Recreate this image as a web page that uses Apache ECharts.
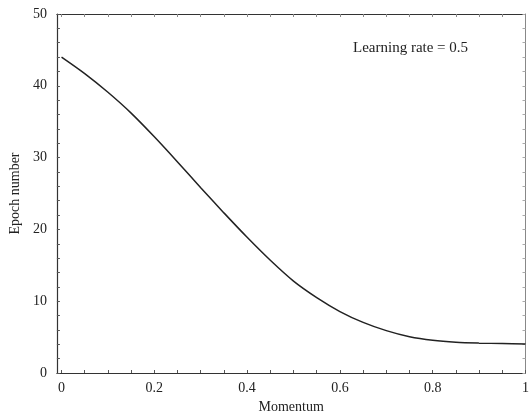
<!DOCTYPE html>
<html>
<head>
<meta charset="utf-8">
<script src="https://cdn.jsdelivr.net/npm/echarts@6/dist/echarts.min.js"></script>
<style>html,body{margin:0;padding:0;background:#fff;}#c{width:532px;height:419px;}</style>
</head>
<body>
<div id="c"></div>
<script>
const momentum = [0, 0.05, 0.1, 0.15, 0.2, 0.25, 0.3, 0.35, 0.4, 0.45, 0.5, 0.55, 0.6, 0.65, 0.7, 0.75, 0.8, 0.85, 0.9, 0.95, 1.0];
const epochs = [44.0, 41.7, 39.1, 36.2, 32.9, 29.4, 25.8, 22.3, 18.9, 15.7, 12.8, 10.5, 8.56, 7.05, 5.9, 5.05, 4.55, 4.28, 4.16, 4.1, 4.05];
const xTickLabels = [0, 0.2, 0.4, 0.6, 0.8, 1];
const xMinorTicks = [0, 0.05, 0.1, 0.15, 0.2, 0.25, 0.3, 0.35, 0.4, 0.45, 0.5, 0.55, 0.6, 0.65, 0.7, 0.75, 0.8, 0.85, 0.9, 0.95, 1];
const yTickLabels = [0, 10, 20, 30, 40, 50];
const yMinorTicks = [0, 2, 4, 6, 8, 10, 12, 14, 16, 18, 20, 22, 24, 26, 28, 30, 32, 34, 36, 38, 40, 42, 44, 46, 48, 50];
const annotation = 'Learning rate = 0.5';

const font = 'Liberation Serif, Times New Roman, serif';
const lineStyle = {color: '#333', width: 1.2};
const chart = echarts.init(document.getElementById('c'), null, {renderer: 'canvas'});
chart.setOption({
  animation: false,
  backgroundColor: '#fff',
  grid: {left: 52, right: 2, top: 14, bottom: 44, containLabel: false},
  xAxis: [{
    type: 'value', min: -0.01, max: 1, position: 'bottom',
    name: 'Momentum', nameLocation: 'middle', nameGap: 27,
    nameTextStyle: {fontFamily: font, fontSize: 14, color: '#222'},
    axisLine: {show: true, onZero: false, lineStyle: lineStyle},
    axisTick: {show: true, inside: true, length: 3, customValues: xMinorTicks, lineStyle: {color: '#555', width: 1}},
    axisLabel: {customValues: xTickLabels, fontFamily: font, fontSize: 14, color: '#222', margin: 8,
      formatter: v => String(+v.toFixed(2))},
    splitLine: {show: false}
  }, {
    type: 'value', min: -0.01, max: 1, position: 'top',
    axisLine: {show: true, onZero: false, lineStyle: lineStyle},
    axisTick: {show: true, inside: true, length: 3, customValues: xMinorTicks, lineStyle: {color: '#888', width: 1}},
    axisLabel: {show: false}, splitLine: {show: false}
  }],
  yAxis: [{
    type: 'value', min: 0, max: 50, position: 'left',
    name: 'Epoch number', nameLocation: 'middle', nameGap: 32, nameRotate: 90,
    nameTextStyle: {fontFamily: font, fontSize: 14, color: '#222'},
    axisLine: {show: true, onZero: false, lineStyle: lineStyle},
    axisTick: {show: true, inside: true, length: 3, customValues: yMinorTicks, lineStyle: {color: '#555', width: 1}},
    axisLabel: {customValues: yTickLabels, fontFamily: font, fontSize: 14, color: '#222', margin: 10},
    splitLine: {show: false}
  }, {
    type: 'value', min: 0, max: 50, position: 'right',
    axisLine: {show: true, onZero: false, lineStyle: {color: '#888', width: 1}},
    axisTick: {show: true, inside: true, length: 3, customValues: yMinorTicks, lineStyle: {color: '#aaa', width: 1}},
    axisLabel: {show: false}, splitLine: {show: false}
  }],
  series: [{
    type: 'line',
    xAxisIndex: 0, yAxisIndex: 0,
    data: momentum.map((m, i) => [m, epochs[i]]),
    smooth: 0.3,
    showSymbol: false,
    lineStyle: {color: '#222', width: 1.5}
  }],
  graphic: [{
    type: 'text', left: 353, top: 41,
    style: {text: annotation, font: '15px ' + font, fill: '#222'}
  }]
});
</script>
</body>
</html>
